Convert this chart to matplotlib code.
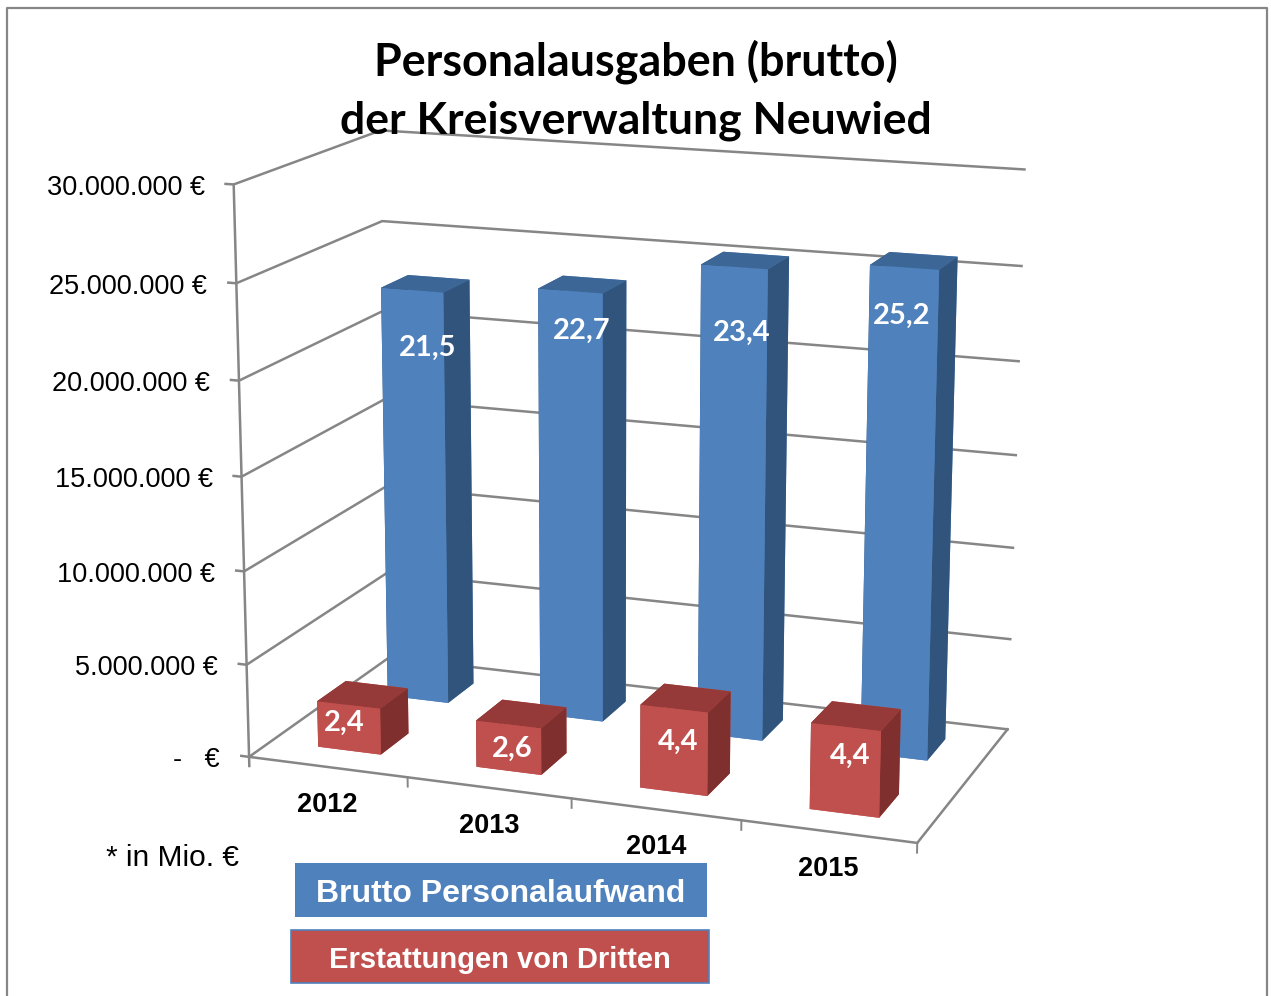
import numpy as np
import matplotlib
matplotlib.use("Agg")
import matplotlib.pyplot as plt
from matplotlib.patches import Rectangle

# data (bar heights as drawn, the printed labels are typed text in the original)
years = ["2012", "2013", "2014", "2015"]
brutto = [22.7, 23.3, 25.2, 25.8]
erstattung = [2.5, 2.5, 4.4, 4.5]
brutto_labels = ["21,5", "22,7", "23,4", "25,2"]
erstattung_labels = ["2,4", "2,6", "4,4", "4,4"]
z_ticks = [0, 5, 10, 15, 20, 25, 30]
z_labels = ["-   €", "5.000.000 €", "10.000.000 €", "15.000.000 €",
            "20.000.000 €", "25.000.000 €", "30.000.000 €"]

W = 1271
H = 996
GREY = "#868686"
BLUE = ["#4F81BD", "#3C6696", "#31547C"]   # front, top, side
RED = ["#C0504D", "#953A38", "#7F302E"]

# calibration of the camera: plot corners (cat, depth, value) -> image pixel
calib = [
    (0, 0, 0, 250, 757), (0, 0, 5, 247, 664), (0, 0, 10, 244, 571),
    (0, 0, 15, 241, 477), (0, 0, 20, 239, 380), (0, 0, 25, 236, 283),
    (0, 0, 30, 233, 185),
    (4, 2, 0, 1008, 729), (4, 2, 5, 1010, 639), (4, 2, 10, 1013, 548),
    (4, 2, 15, 1016, 456), (4, 2, 20, 1019, 361), (4, 2, 25, 1021.5, 266),
    (4, 2, 30, 1024, 169),
    (0, 2, 30, 383, 130), (0, 2, 25, 381, 222), (0, 2, 0, 388, 657),
    (4, 0, 0, 917, 842), (1, 0, 0, 408, 778), (2, 0, 0, 572, 799),
    (3, 0, 0, 741, 821),
]


def fit_camera(points):
    rows = []
    for x, y, z, u, v in points:
        rows.append([x, y, z, 1, 0, 0, 0, 0, -u*x, -u*y, -u*z, -u])
        rows.append([0, 0, 0, 0, x, y, z, 1, -v*x, -v*y, -v*z, -v])
    vt = np.linalg.svd(np.array(rows, dtype=float))[2]
    P = vt[-1].reshape(3, 4)
    return P/P[2, 3]


P = fit_camera(calib)
M = np.array([P[0], P[1], [-0.3, 1.0, -0.03, 0.0], P[2]])


def to_px(x, y, z):
    q = P @ np.array([x, y, z, 1.0])
    return q[0]/q[2], q[1]/q[2]


def pixel_axes(zo):
    a = fig.add_axes([0, 0, 1, 1], zorder=zo)
    a.set_xlim(0, W)
    a.set_ylim(H, 0)
    a.axis("off")
    return a


def line3(xs, ys, zs, lw=1.8):
    pts = [to_px(x, y, z) for x, y, z in zip(xs, ys, zs)]
    bg.plot([p[0] for p in pts], [p[1] for p in pts], color=GREY, lw=lw,
            solid_joinstyle="miter")


def bars(values, depth, cols, zo):
    for i, v in enumerate(values):
        # faces: bottom, top, -y, +y, -x, +x
        faces = [cols[0], cols[1], cols[0], cols[0], cols[2], cols[2]]
        ax.bar3d(i + 0.3, depth + 0.3, 0, 0.4, 0.4, v, color=faces, shade=False,
                 linewidth=0, edgecolor="none", zorder=zo + i)


fig = plt.figure(figsize=(W/100, H/100), dpi=100)

# walls and floor, behind the bars
bg = pixel_axes(0)
for z in z_ticks:
    line3([-0.05, 0, 0, 4], [0, 0, 2, 2], [z, z, z, z])
line3([0, 0], [0, 0], [-0.5, 30])
line3([0, 4, 4], [0, 0, 2], [0, 0, 0])
for i in range(1, 5):
    line3([i, i], [0, 0], [0, -0.5], lw=1.4)

ax = fig.add_axes([0, 0, 1, 1], projection="3d", zorder=1)
ax.apply_aspect = lambda position=None: None
ax.get_proj = lambda: M
ax.computed_zorder = False
ax.set_axis_off()
ax.patch.set_visible(False)

bars(brutto, 1, BLUE, 2)
bars(erstattung, 0, RED, 10)
ax.viewLim.set_points(np.array([[0.0, H], [W, 0.0]], dtype=float))

# texts and boxes on top
ov = pixel_axes(2)

ov.plot([7, 7, 1267, 1267], [H + 5, 8, 8, H + 5], color=GREY, lw=1.6)

ov.text(636, 62, "Personalausgaben (brutto)", family="Lato", weight="bold",
        fontsize=32.3, ha="center", va="center")
ov.text(636, 121, "der Kreisverwaltung Neuwied", family="Lato", weight="bold",
        fontsize=32, ha="center", va="center")

for z, s in zip(z_ticks, z_labels):
    px, py = to_px(0, 0, z)
    ov.text(px - 29, py + 3.5, s, family="Liberation Sans", fontsize=19.5, ha="right", va="center")

for i, s in enumerate(years):
    px, py = to_px(i + 0.5, 0, 0)
    ov.text(px, py + 38, s, family="Liberation Sans", weight="bold", fontsize=19.5,
            ha="center", va="center")

blue_pos = [(428, 348), (582, 331), (742, 333), (902, 316)]
red_pos = [(344, 723), (512, 749), (678, 742), (850, 756)]
for (px, py), s in zip(blue_pos + red_pos, brutto_labels + erstattung_labels):
    ov.text(px, py, s, family="Lato", weight="bold", color="white", fontsize=21,
            ha="center", va="center")

ov.text(106, 858, "* in Mio. €", family="Liberation Sans", fontsize=21.5, ha="left", va="center")

ov.add_patch(Rectangle((295, 863), 412, 54, fc=BLUE[0], ec="none"))
ov.text(501, 894, "Brutto Personalaufwand", family="Liberation Sans", weight="bold",
        color="white", fontsize=23, ha="center", va="center")
ov.add_patch(Rectangle((291, 930), 418, 53, fc=RED[0], ec=BLUE[0], lw=1.2))
ov.text(500, 960, "Erstattungen von Dritten", family="Liberation Sans", weight="bold",
        color="white", fontsize=21, ha="center", va="center")

fig.savefig("out.png", dpi=100)
